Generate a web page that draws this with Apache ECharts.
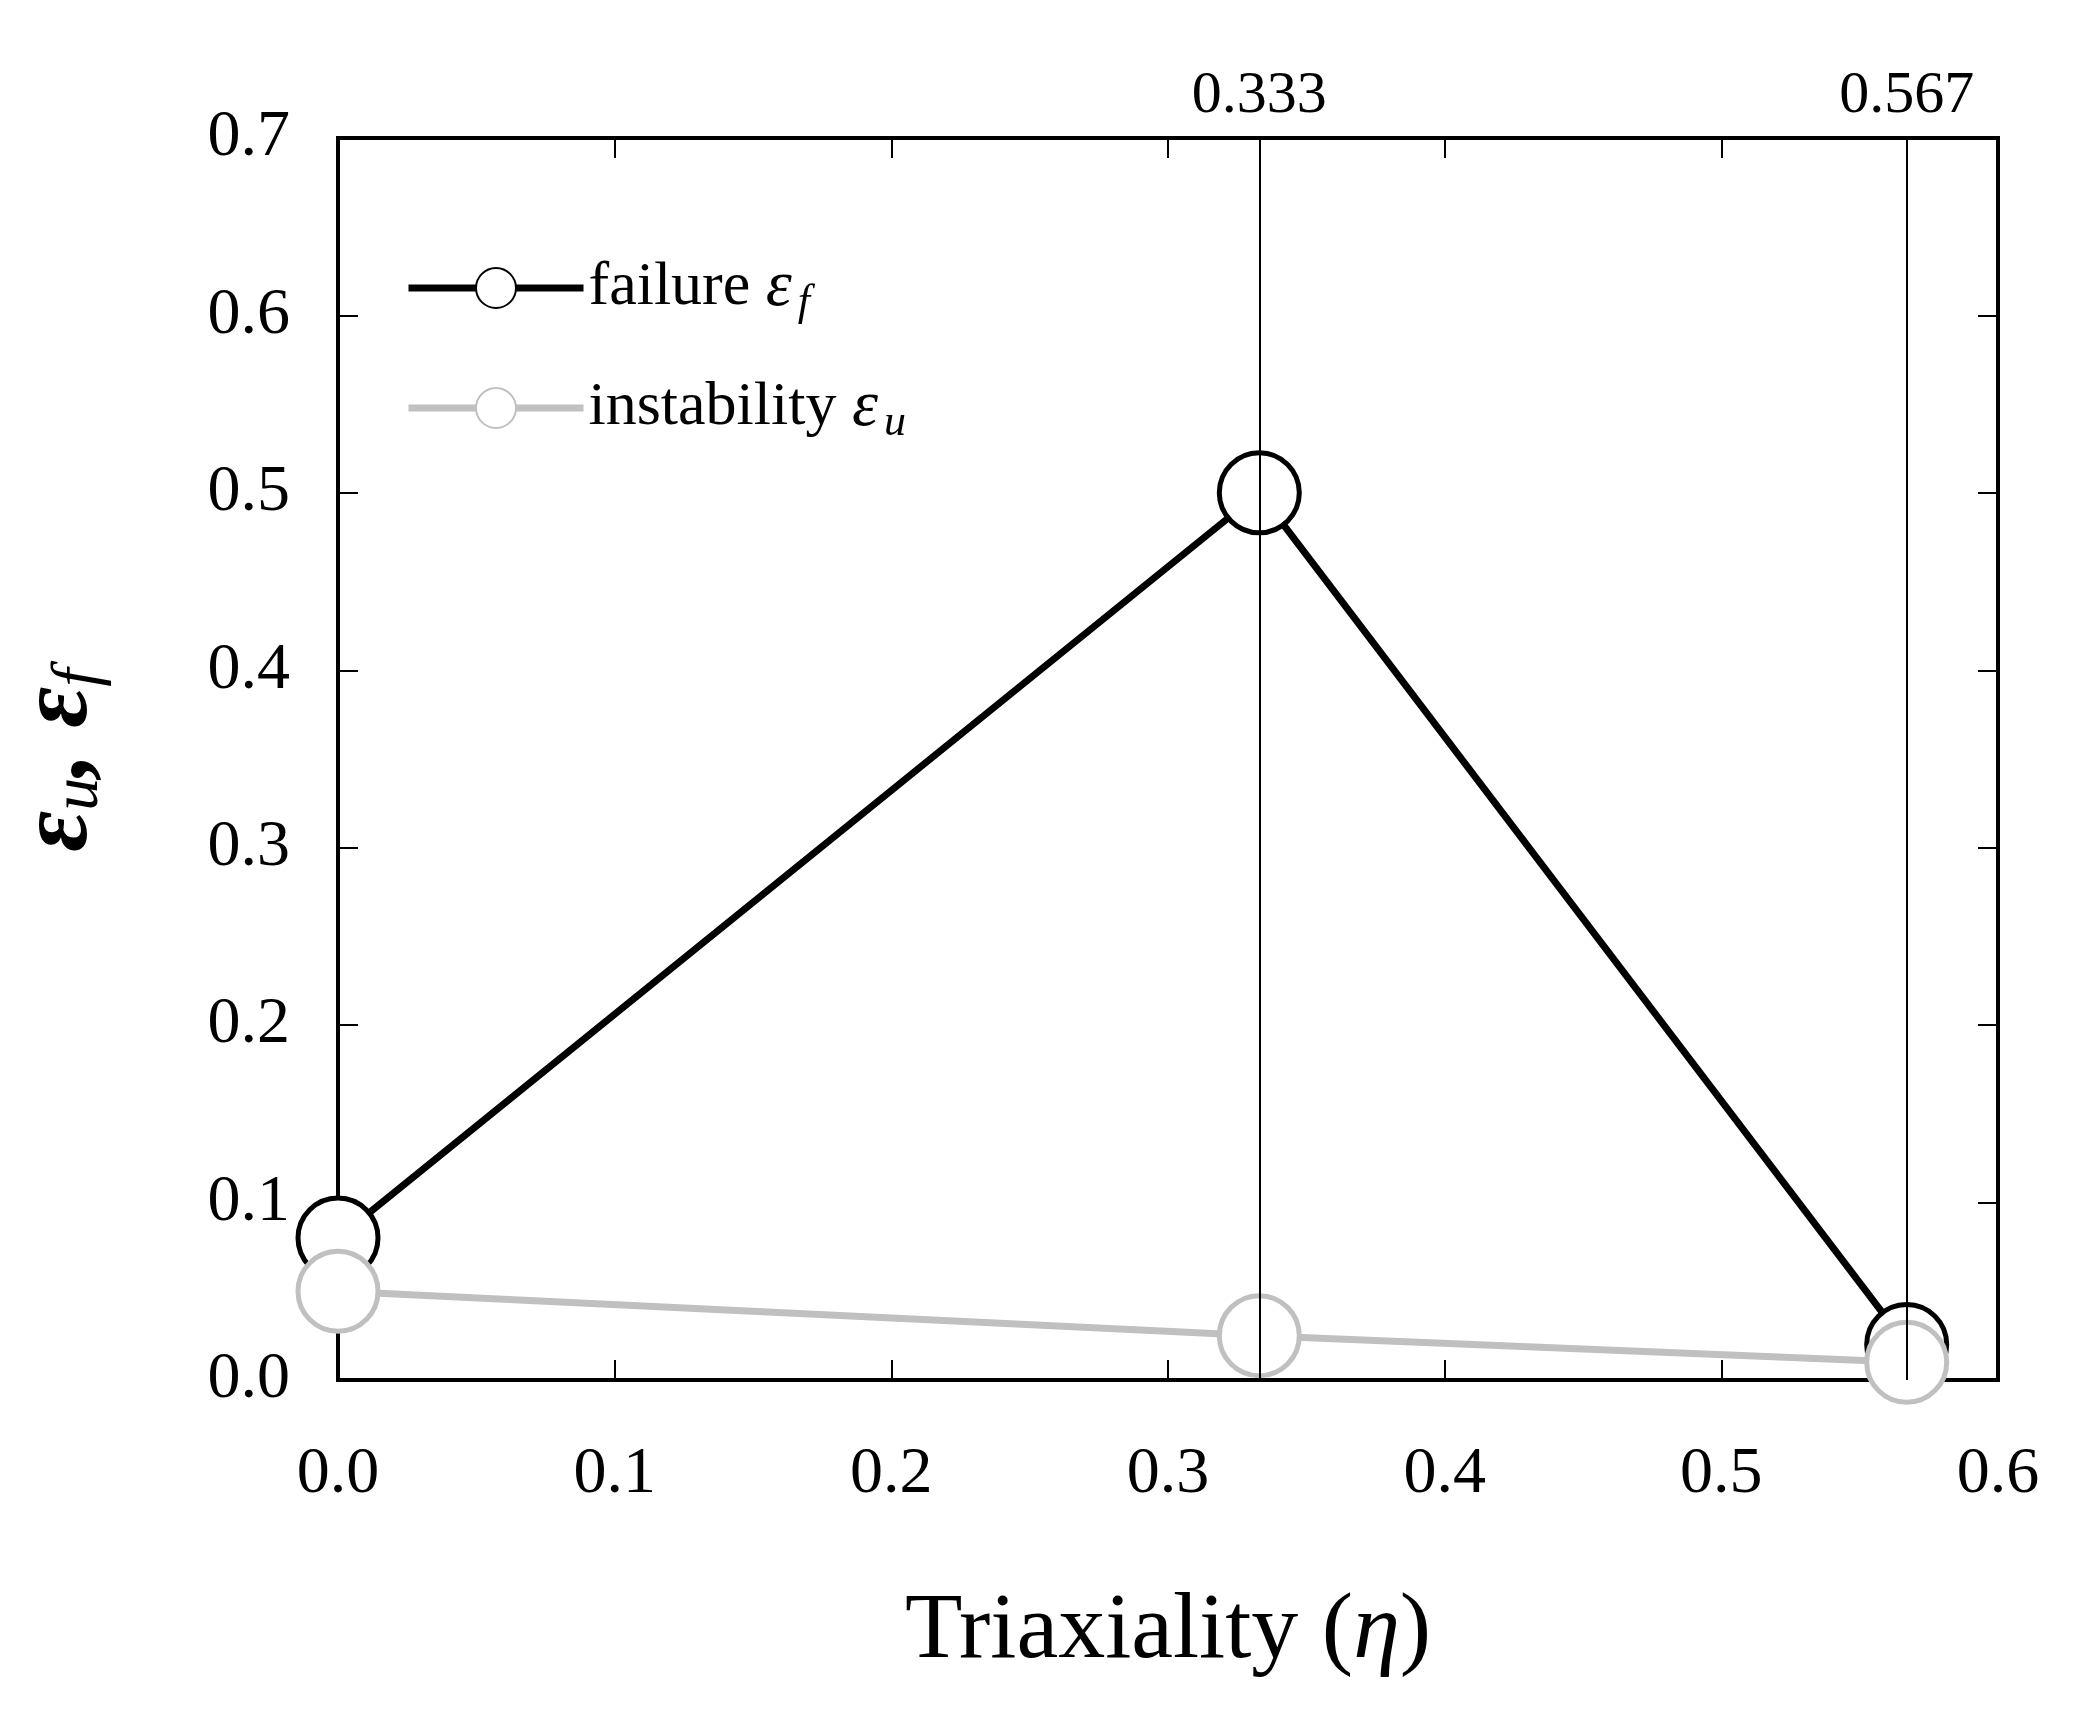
<!DOCTYPE html>
<html>
<head>
<meta charset="utf-8">
<script src="https://cdn.jsdelivr.net/npm/echarts@6/dist/echarts.min.js"></script>
<style>body{margin:0}</style>
</head>
<body>
<div id="main" style="width:2084px;height:1728px;"></div>
<script>
var eta = [0, 0.333, 0.567];
var failure = [0.08, 0.5, 0.02];
var instability = [0.05, 0.025, 0.01];

var font = 'Liberation Serif';
var chart = echarts.init(document.getElementById('main'));
function pts(ys) { return eta.map(function (x, i) { return [x, ys[i]]; }); }
function fmt(v) { return v.toFixed(1); }
function axis(type, pos, max, showLabel, extra) {
  var a = {
    type: 'value', min: 0, max: max, interval: 0.1, position: pos, show: true,
    axisLine: { show: true, onZero: false, lineStyle: { color: '#000', width: 4 } },
    axisTick: { show: true, inside: true, length: 20, lineStyle: { color: '#000', width: 2 } },
    splitLine: { show: false },
    axisLabel: showLabel
      ? { show: true, fontFamily: font, fontSize: 66, color: '#000', margin: type === 'x' ? 62 : 48, formatter: fmt }
      : { show: false }
  };
  return Object.assign(a, extra || {});
}
var legendRich = {
  t: { fontFamily: font, fontSize: 62, color: '#000' },
  e: { fontFamily: font, fontSize: 66, fontStyle: 'italic', color: '#000' },
  s: { fontFamily: font, fontSize: 44, fontStyle: 'italic', color: '#000', padding: [30, 0, 0, 6] }
};
chart.setOption({
  animation: false,
  grid: { left: 338, right: 86, top: 138, bottom: 348, show: true, borderColor: '#000', borderWidth: 4, backgroundColor: 'transparent' },
  legend: {
    orient: 'vertical', left: 400, top: 250, itemGap: 50,
    itemWidth: 175, itemHeight: 50,
    data: ['failure', 'instability'],
    lineStyle: { width: 7 },
    textStyle: { rich: legendRich },
    formatter: function (n) {
      return n === 'failure' ? '{t|failure }{e|ε}{s|f}' : '{t|instability }{e|ε}{s|u}';
    }
  },
  xAxis: [
    axis('x', 'bottom', 0.6, true, {
      name: '{t|Triaxiality (}{e|η}{t|)}', nameLocation: 'middle', nameGap: 205,
      nameTextStyle: { rich: {
        t: { fontFamily: font, fontSize: 94, color: '#000' },
        e: { fontFamily: font, fontSize: 94, fontStyle: 'italic', color: '#000' }
      } }
    }),
    axis('x', 'top', 0.6, false)
  ],
  yAxis: [
    axis('y', 'left', 0.7, true),
    axis('y', 'right', 0.7, false)
  ],
  graphic: [{
    type: 'text', x: 60, y: 760, rotation: Math.PI / 2,
    style: {
      text: '{e|ε}{s|u}{e|, ε}{s|f}',
      align: 'center', verticalAlign: 'middle',
      rich: {
        e: { fontFamily: font, fontSize: 100, fontStyle: 'italic', fontWeight: 'bold', fill: '#000' },
        s: { fontFamily: font, fontSize: 66, fontStyle: 'italic', fill: '#000', padding: [40, 0, 0, 0] }
      }
    }
  }],
  series: [
    {
      name: 'failure', type: 'line', data: pts(failure),
      symbol: 'circle', symbolSize: 80,
      lineStyle: { color: '#000', width: 7 },
      itemStyle: { color: '#fff', borderColor: '#000', borderWidth: 5 },
      markLine: {
        silent: true, symbol: 'none',
        lineStyle: { color: '#000', width: 2, type: 'solid' },
        label: { position: 'end', fontFamily: font, fontSize: 60, color: '#000', distance: 12 },
        data: [0.333, 0.567].map(function (x) {
          return [{ coord: [x, 0] }, { coord: [x, 0.7], label: { formatter: x.toFixed(3) } }];
        })
      },
      z: 3
    },
    {
      name: 'instability', type: 'line', data: pts(instability),
      symbol: 'circle', symbolSize: 80,
      lineStyle: { color: '#c0c0c0', width: 7 },
      itemStyle: { color: '#fff', borderColor: '#c0c0c0', borderWidth: 5 },
      z: 4
    }
  ]
});
</script>
</body>
</html>
